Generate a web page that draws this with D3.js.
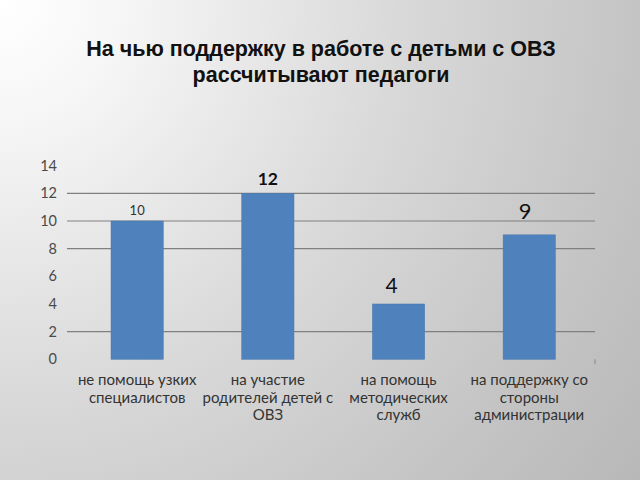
<!DOCTYPE html>
<html><head><meta charset="utf-8">
<script src="https://cdn.jsdelivr.net/npm/d3@7"></script>
<style>html,body{margin:0;padding:0;}svg{display:block;}</style>
</head><body>
<script>
const categories = [
  ["не помощь узких", "специалистов"],
  ["на участие", "родителей детей с", "ОВЗ"],
  ["на помощь", "методических", "служб"],
  ["на поддержку со", "стороны", "администрации"]
];
const values = [10, 12, 4, 9];
const yTicks = [0, 2, 4, 6, 8, 10, 12, 14];
const gridValues = [2, 8, 10, 12];
const titleLines = ["На чью поддержку в работе с детьми с ОВЗ", "рассчитывают педагоги"];

const W = 640, H = 480;
const svg = d3.select("body").append("svg").attr("width", W).attr("height", H);
const defs = svg.append("defs");
const rg = defs.append("radialGradient").attr("id", "bg")
  .attr("gradientUnits", "userSpaceOnUse").attr("cx", 0).attr("cy", 0).attr("r", 800);
[[0, "#ffffff"], [0.15, "#f6f6f6"], [0.5, "#d9d9d9"], [0.8, "#c4c4c4"], [1, "#b8b8b8"]]
  .forEach(([o, c]) => rg.append("stop").attr("offset", o).attr("stop-color", c));
svg.append("rect").attr("width", W).attr("height", H).attr("fill", "url(#bg)");

// title
svg.append("text").attr("x", 320).attr("text-anchor", "middle")
  .attr("font-family", "Liberation Sans, Arial, sans-serif").attr("font-weight", "bold")
  .attr("font-size", 21.5).attr("fill", "#111")
  .selectAll("tspan").data(titleLines).join("tspan")
  .attr("x", 321).attr("y", (d, i) => 56 + i * 26).text(d => d);

const x0 = 67, x1 = 595, yTop = 165.7, yBot = 359.3;
const x = d3.scaleBand().domain(d3.range(values.length)).range([71.8, 594.6]).paddingInner(0.6).paddingOuter(0.3);
const y = d3.scaleLinear().domain([0, 14]).range([yBot, yTop]);

// gridlines
svg.append("g").selectAll("line").data(gridValues).join("line")
  .attr("x1", x0).attr("x2", x1).attr("y1", d => y(d)).attr("y2", d => y(d))
  .attr("stroke", "#808080").attr("stroke-width", 1.2);

// y axis
const yAxis = svg.append("g").attr("transform", `translate(${x0},0)`)
  .call(d3.axisLeft(y).tickValues(yTicks).tickSize(0).tickPadding(10));
yAxis.select(".domain").remove();
yAxis.selectAll("text").attr("font-family", "Lato, 'Open Sans', sans-serif")
  .attr("font-size", 14.5).attr("fill", "#4a4a4a");

// small tick at right end
svg.append("line").attr("x1", x1).attr("x2", x1).attr("y1", yBot).attr("y2", yBot + 5)
  .attr("stroke", "#888").attr("stroke-width", 1);

// bars
svg.append("g").selectAll("rect").data(values).join("rect")
  .attr("x", (d, i) => x(i)).attr("width", x.bandwidth())
  .attr("y", d => y(d)).attr("height", d => yBot - y(d))
  .attr("fill", "#4f81bd").attr("stroke", "#4a78b0").attr("stroke-width", 0.5);

// value labels (differing styles per label as in the reference)
const lblStyle = [
  {size: 13, weight: "normal", dx: 0, fill: "#333"},
  {size: 17.5, weight: "bold", dx: 0, fill: "#111"},
  {size: 21, weight: "normal", dx: -7, fill: "#111"},
  {size: 22, weight: "normal", dx: -4, fill: "#111"}
];
const lblGap = [6, 8, 11, 16];
svg.append("g").selectAll("text").data(values).join("text")
  .attr("x", (d, i) => x(i) + x.bandwidth() / 2 + lblStyle[i].dx)
  .attr("y", (d, i) => y(d) - lblGap[i])
  .attr("text-anchor", "middle")
  .attr("font-family", "Lato, 'Open Sans', sans-serif")
  .attr("font-size", (d, i) => lblStyle[i].size)
  .attr("font-weight", (d, i) => lblStyle[i].weight)
  .attr("fill", (d, i) => lblStyle[i].fill)
  .text(d => d);

// category labels
svg.append("g").selectAll("text").data(categories).join("text")
  .attr("text-anchor", "middle")
  .attr("font-family", "Lato, 'Open Sans', sans-serif")
  .attr("font-size", 15).attr("fill", "#333")
  .each(function(lines, i) {
    d3.select(this).selectAll("tspan").data(lines).join("tspan")
      .attr("x", x(i) + x.bandwidth() / 2).attr("y", (d, j) => 385 + j * 17.5).text(d => d);
  });
</script>
</body></html>
